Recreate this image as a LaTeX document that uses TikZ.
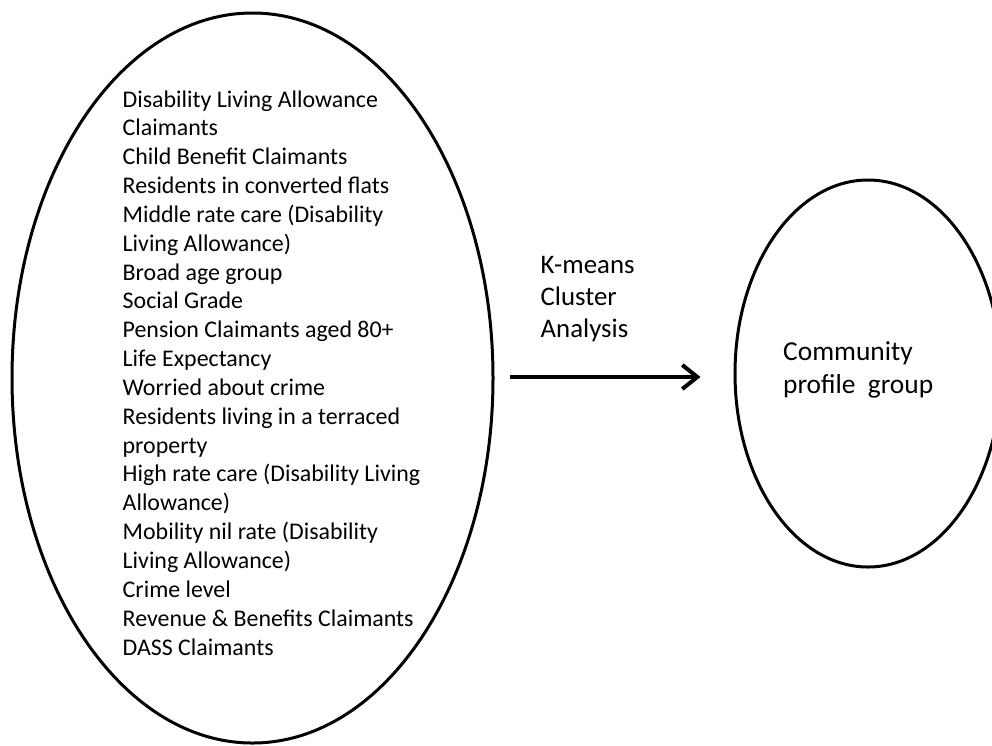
\documentclass[tikz,border=0pt]{standalone}
\usepackage{fontspec}
\setmainfont{Carlito}
\usetikzlibrary{shapes.geometric,arrows.meta}
\tikzset{
  oval/.style={ellipse, draw=black, line width=3pt, inner sep=0pt},
  lbl/.style={inner sep=0pt, align=left, anchor=base west},
  flow/.style={line width=4pt, -{Straight Barb[length=15pt,width=24pt]}}
}
\begin{document}
\begin{tikzpicture}[x=1pt,y=-1pt]
\useasboundingbox (0,0) rectangle (992,745);
\node[oval, minimum width=481pt, minimum height=730pt] (L) at (252.5,378) {};
\node[oval, minimum width=266pt, minimum height=387pt] (R) at (868,373.5) {};
\node[lbl, font=\fontsize{23.9}{28.84}\selectfont] (vars) at (122.5,655) {Disability Living Allowance\\Claimants\\Child Benefit Claimants\\Residents in converted flats\\Middle rate care (Disability\\Living Allowance)\\Broad age group\\Social Grade\\Pension Claimants aged 80+\\Life Expectancy\\Worried about crime\\Residents living in a terraced\\property\\High rate care (Disability Living\\Allowance)\\Mobility nil rate (Disability\\Living Allowance)\\Crime level\\Revenue \& Benefits Claimants\\DASS Claimants};
\node[lbl, font=\fontsize{26.8}{31.7}\selectfont] (km) at (540.5,337) {K-means\\Cluster\\Analysis};
\node[lbl, font=\fontsize{27.4}{33}\selectfont] (cp) at (783,393.3) {Community\\profile~ group};
\coordinate (a1) at ([xshift=15.5pt]L.east |- 0,377);
\coordinate (a2) at ([xshift=-33pt]R.west |- 0,377);
\draw[flow] (a1) -- (a2);
\end{tikzpicture}
\end{document}
